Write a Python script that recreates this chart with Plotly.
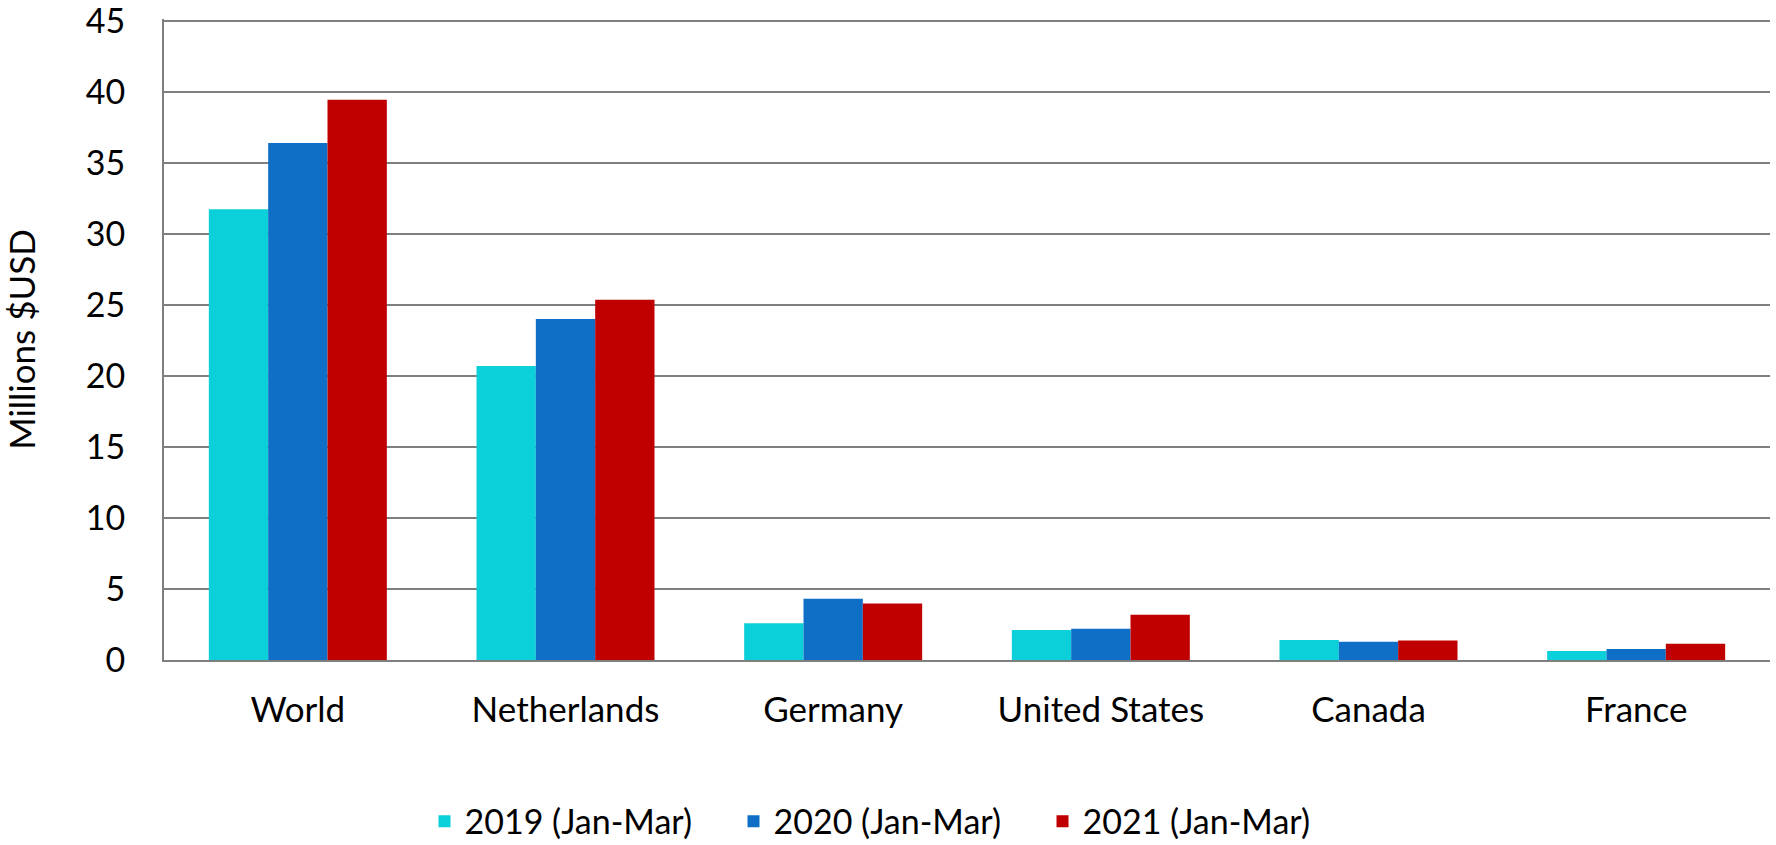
import plotly.graph_objects as go

categories = ["World", "Netherlands", "Germany", "United States", "Canada", "France"]
series_names = ["2019 (Jan-Mar)", "2020 (Jan-Mar)", "2021 (Jan-Mar)"]
values_2019 = [31.75, 20.70, 2.58, 2.11, 1.40, 0.64]
values_2020 = [36.42, 24.02, 4.31, 2.20, 1.28, 0.78]
values_2021 = [39.46, 25.37, 3.98, 3.18, 1.37, 1.14]
colors = ["#0BCFD9", "#0F6FC6", "#C00000"]
y_ticks = [0, 5, 10, 15, 20, 25, 30, 35, 40, 45]

FONT = "Lato"
fig = go.Figure()
for name, vals, col in zip(series_names, [values_2019, values_2020, values_2021], colors):
    fig.add_trace(go.Bar(x=categories, y=vals, name=name, marker=dict(color=col, line=dict(width=0))))

fig.update_layout(
    width=1776, height=845,
    paper_bgcolor="white", plot_bgcolor="white",
    margin=dict(l=164, r=6, t=19, b=185, autoexpand=False),
    barmode="group", bargap=0.335, bargroupgap=0,
    font=dict(family=FONT, size=35, color="black"),
    showlegend=True,
    legend=dict(orientation="h", xref="container", yref="paper",
                x=0.5, xanchor="center", y=-0.252, yanchor="middle",
                font=dict(size=34), entrywidth=264, entrywidthmode="pixels",
                traceorder="normal"),
)
fig.update_yaxes(range=[0, 45.15], tickvals=y_ticks, showgrid=True, gridcolor="#7F7F7F", gridwidth=2,
                 showline=True, linecolor="#7F7F7F", linewidth=2, zeroline=False,
                 ticks="", ticklabelstandoff=30, automargin=False, ticklabeloverflow="allow",
                 tickfont=dict(size=34),
                 title=dict(text="Millions $USD", font=dict(size=35), standoff=40))
fig.update_xaxes(showline=True, linecolor="#7F7F7F", linewidth=2, ticks="", ticklabelstandoff=18,
                 showgrid=False, automargin=False)

fig.write_html("out.html", config={"displayModeBar": False},
               post_script="document.body.style.margin='0';document.body.style.overflow='hidden';")
